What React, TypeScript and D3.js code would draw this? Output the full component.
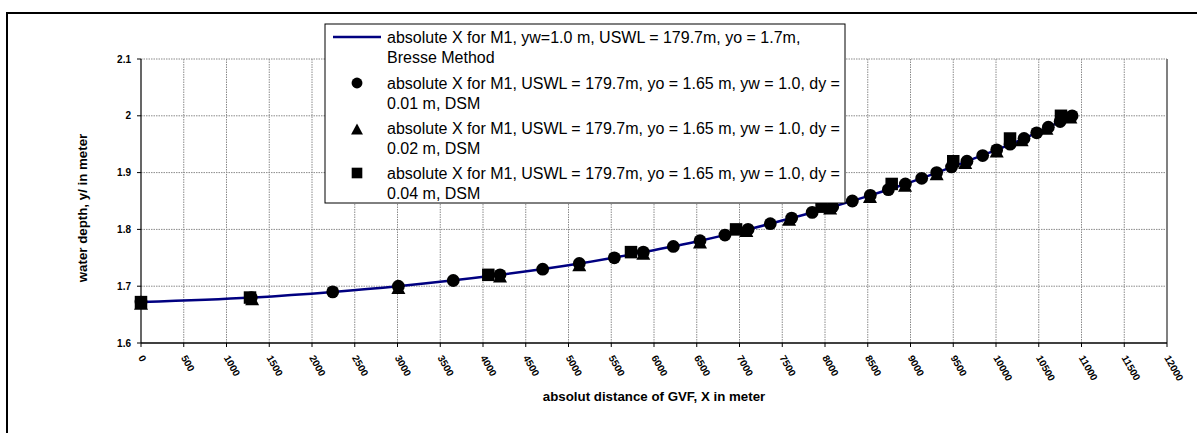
import React from 'react';
import * as d3 from 'd3';

// Gradually varied flow profile (M1 curve): Bresse method vs. direct step method (DSM)
const xTickValues = [0, 500, 1000, 1500, 2000, 2500, 3000, 3500, 4000, 4500, 5000, 5500, 6000,
  6500, 7000, 7500, 8000, 8500, 9000, 9500, 10000, 10500, 11000, 11500, 12000];
const yTickValues = [1.6, 1.7, 1.8, 1.9, 2.0, 2.1];
const yTickLabels = ['1.6', '1.7', '1.8', '1.9', '2', '2.1'];

// Bresse method profile
const bresseX = [0, 1290, 2242, 3005, 4195, 5130, 5880, 6540, 7100, 7610, 8090, 8530, 8940, 9310, 9660, 10005, 10328, 10612, 10900];
const bresseY = [1.672, 1.68, 1.69, 1.70, 1.72, 1.74, 1.76, 1.78, 1.80, 1.82, 1.84, 1.86, 1.88, 1.90, 1.92, 1.94, 1.96, 1.98, 2.00];

// DSM, dy = 0.01 m
const dsm01X = [0, 1290, 2242, 3010, 3652, 4199, 4698, 5126, 5536, 5875, 6226, 6538, 6830, 7100, 7360, 7610, 7850,
  8090, 8320, 8530, 8741, 8940, 9131, 9306, 9480, 9660, 9844, 10008, 10165, 10328, 10476, 10612, 10750, 10890];
const dsm01Y = [1.672, 1.68, 1.69, 1.70, 1.71, 1.72, 1.73, 1.74, 1.75, 1.76, 1.77, 1.78, 1.79, 1.80, 1.81, 1.82, 1.83,
  1.84, 1.85, 1.86, 1.87, 1.88, 1.89, 1.90, 1.91, 1.92, 1.93, 1.94, 1.95, 1.96, 1.97, 1.98, 1.99, 2.00];

// DSM, dy = 0.02 m
const dsm02X = [0, 1300, 3010, 4199, 5126, 5875, 6538, 7080, 7580, 8060, 8526, 8936, 9306, 9640, 10008, 10300, 10590, 10870];
const dsm02Y = [1.672, 1.68, 1.70, 1.72, 1.74, 1.76, 1.78, 1.80, 1.82, 1.84, 1.86, 1.88, 1.90, 1.92, 1.94, 1.96, 1.98, 2.00];

// DSM, dy = 0.04 m
const dsm04X = [0, 1275, 4062, 5731, 6960, 7960, 8780, 9500, 10164, 10760];
const dsm04Y = [1.672, 1.68, 1.72, 1.76, 1.80, 1.84, 1.88, 1.92, 1.96, 2.00];

const legendLines = [
  ['absolute X for M1, yw=1.0 m, USWL = 179.7m, yo = 1.7m,', 'Bresse Method'],
  ['absolute X for M1, USWL = 179.7m, yo = 1.65 m, yw = 1.0, dy =', '0.01 m, DSM'],
  ['absolute X for M1, USWL = 179.7m, yo = 1.65 m, yw = 1.0, dy =', '0.02 m, DSM'],
  ['absolute X for M1, USWL = 179.7m, yo = 1.65 m, yw = 1.0, dy =', '0.04 m, DSM'],
];

const W = 1197;
const H = 433;
const plot = { left: 141, right: 1167, top: 59, bottom: 343 };
const FONT = 'Arial, "Liberation Sans", Helvetica, sans-serif';

const x = d3.scaleLinear().domain([0, 12000]).range([plot.left, plot.right]);
const y = d3.scaleLinear().domain([1.6, 2.1]).range([plot.bottom, plot.top]);

const zip = (xs: number[], ys: number[]) => xs.map((v, i) => [v, ys[i]] as [number, number]);

function Marker({ kind, cx, cy, scale = 1 }: { kind: string; cx: number; cy: number; scale?: number }) {
  if (kind === 'circle') return <circle cx={cx} cy={cy} r={6.4 * scale} fill="#000" />;
  if (kind === 'square') {
    const s = 12.5 * scale;
    return <rect x={cx - s / 2} y={cy - s / 2} width={s} height={s} fill="#000" />;
  }
  // triangle, centred on its bounding box
  const w = 14 * scale;
  const h = 13 * scale;
  const oy = 1.2 * scale;
  return (
    <path d={`M${cx},${cy - h / 2 + oy} L${cx + w / 2},${cy + h / 2 + oy} L${cx - w / 2},${cy + h / 2 + oy} Z`} fill="#000" />
  );
}

export default function App() {
  const line = d3.line<[number, number]>()
    .x(d => x(d[0]))
    .y(d => y(d[1]))
    .curve(d3.curveMonotoneX);

  const gridX = xTickValues.filter(v => v > 0 && v < 12000);
  const gridY = yTickValues.filter(v => v > 1.6);

  const legend = { x: 325, y: 24, w: 520, h: 179 };
  const rowY = [37, 83, 128, 173];
  const kinds = ['line', 'circle', 'triangle', 'square'];

  return (
    <svg width={W} height={H} style={{ position: 'absolute', left: 0, top: 0, background: '#fff' }}
      fontFamily={FONT}>
      <rect x={0} y={0} width={W} height={H} fill="#fff" />
      {/* chart frame */}
      <rect x={7} y={13} width={1210} height={500} fill="none" stroke="#000" strokeWidth={2} />

      {/* gridlines */}
      {gridX.map(v => (
        <line key={'gx' + v} x1={x(v)} x2={x(v)} y1={plot.top} y2={plot.bottom}
          stroke="#8a8a8a" strokeWidth={1} strokeDasharray="1.5,1" />
      ))}
      {gridY.map(v => (
        <line key={'gy' + v} x1={plot.left} x2={plot.right} y1={y(v)} y2={y(v)}
          stroke="#8a8a8a" strokeWidth={1} strokeDasharray="1.5,1" />
      ))}
      {/* plot area right edge */}
      <line x1={plot.right} x2={plot.right} y1={plot.top} y2={plot.bottom} stroke="#808080" strokeWidth={2} />

      {/* axes */}
      <line x1={plot.left} x2={plot.left} y1={plot.top} y2={plot.bottom} stroke="#000" strokeWidth={1.2} />
      <line x1={plot.left} x2={plot.right} y1={plot.bottom} y2={plot.bottom} stroke="#000" strokeWidth={1.5} />

      {/* y ticks */}
      {yTickValues.map((v, i) => (
        <g key={'yt' + v}>
          <line x1={plot.left - 4} x2={plot.left} y1={y(v)} y2={y(v)} stroke="#000" />
          <text x={131} y={y(v)} dy="0.35em" textAnchor="end" fontSize={10} fontWeight="bold">{yTickLabels[i]}</text>
        </g>
      ))}

      {/* x ticks */}
      {xTickValues.map(v => (
        <g key={'xt' + v}>
          <line x1={x(v)} x2={x(v)} y1={plot.bottom} y2={plot.bottom + 4} stroke="#000" />
          <text transform={`translate(${x(v)},${356}) rotate(60)`} dy="0.35em" fontSize={10} fontWeight="bold">{v}</text>
        </g>
      ))}

      {/* axis titles */}
      <text x={(plot.left + plot.right) / 2} y={401} textAnchor="middle" fontSize={13.3} fontWeight="bold">
        absolut distance of GVF, X in meter
      </text>
      <text transform={`translate(87,${208}) rotate(-90)`} textAnchor="middle" fontSize={13.3} fontWeight="bold">
        water depth, y/ in meter
      </text>

      {/* Bresse method line */}
      <path d={line(zip(bresseX, bresseY)) as string} fill="none" stroke="#000080" strokeWidth={2.5} />

      {/* DSM markers */}
      {zip(dsm01X, dsm01Y).map((d, i) => <Marker key={'c' + i} kind="circle" cx={x(d[0])} cy={y(d[1])} />)}
      {zip(dsm02X, dsm02Y).map((d, i) => <Marker key={'t' + i} kind="triangle" cx={x(d[0])} cy={y(d[1])} />)}
      {zip(dsm04X, dsm04Y).map((d, i) => <Marker key={'s' + i} kind="square" cx={x(d[0])} cy={y(d[1])} />)}

      {/* legend */}
      <rect x={legend.x} y={legend.y} width={legend.w} height={legend.h} fill="#fff" stroke="#000" strokeWidth={1} />
      {legendLines.map((lines, i) => (
        <g key={'lg' + i}>
          {kinds[i] === 'line'
            ? <line x1={333} x2={381} y1={rowY[i]} y2={rowY[i]} stroke="#000080" strokeWidth={2.5} />
            : <Marker kind={kinds[i]} cx={357} cy={rowY[i]} scale={0.85} />}
          {lines.map((t, j) => (
            <text key={j} x={387} y={rowY[i] + j * 20} dy="0.36em" fontSize={16}>{t}</text>
          ))}
        </g>
      ))}
    </svg>
  );
}
